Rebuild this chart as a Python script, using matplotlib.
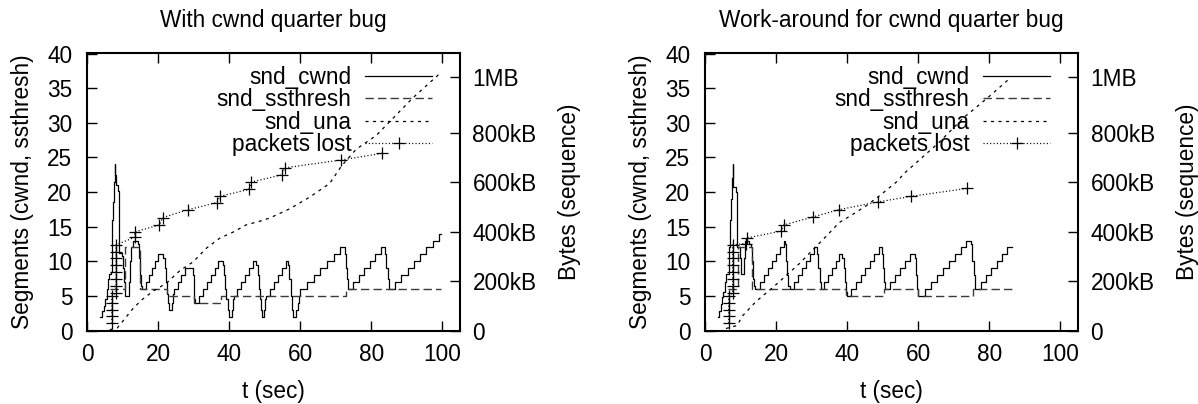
import matplotlib
matplotlib.use("Agg")
import matplotlib.pyplot as plt
from matplotlib.ticker import FixedLocator, FixedFormatter

plt.rcParams['font.family'] = ['Liberation Sans', 'DejaVu Sans']
plt.rcParams['lines.scale_dashes'] = False

# ---------------- data ----------------
titles = ["With cwnd quarter bug", "Work-around for cwnd quarter bug"]
legend_labels = ["snd_cwnd", "snd_ssthresh", "snd_una", "packets lost"]

x_ticks = [0, 20, 40, 60, 80, 100]
y_ticks = [0, 5, 10, 15, 20, 25, 30, 35, 40]
y2_ticks = [0, 204800, 409600, 614400, 819200, 1048576]
y2_ticklabels = ["0", "200kB", "400kB", "600kB", "800kB", "1MB"]

# --- left panel (with bug) ---
cwnd_l_t = [3.7, 4.3, 4.8, 5.2, 5.5, 5.8, 6.1, 6.8, 6.95, 7.05, 7.3, 7.6, 7.85, 8.0, 8.15, 8.8,
            8.95, 9.05, 9.8, 10.0, 10.3, 10.6, 11.8, 12.1, 12.5, 12.9, 14.3, 14.6, 14.9, 15.2,
            15.6, 16.5, 17.4, 18.3, 19.2, 20.1, 21.5, 21.9, 22.2, 22.5, 22.9, 23.1, 23.9, 24.2,
            24.5, 25.5, 26.5, 27.5, 29.8, 30.0, 30.2, 30.4, 31.5, 32.6, 33.7, 34.8, 35.9, 37.0,
            38.3, 38.6, 38.9, 39.2, 39.6, 39.9, 40.7, 41.0, 41.3, 42.3, 43.4, 44.5, 45.6, 46.7,
            47.7, 48.0, 48.3, 48.6, 48.9, 49.2, 49.8, 50.2, 50.5, 51.4, 52.6, 53.8, 55.0, 56.0,
            56.7, 57.0, 57.3, 57.6, 57.9, 58.7, 59.3, 59.8, 60.0, 61.9, 63.8, 65.7, 67.6, 69.5,
            71.3, 72.6, 72.9, 73.1, 73.4, 75.0, 76.6, 78.1, 79.7, 81.2, 82.8, 84.0, 84.3, 84.6,
            84.9, 86.8, 88.5, 90.3, 92.0, 93.8, 95.5, 97.3, 99.0, 99.7]
cwnd_l_v = [2.0, 2.8, 3.5, 4.5, 6.0, 7.5, 8.2, 8.5, 12.0, 16.0, 18.5, 21.5, 24.0, 22.5, 21.0, 20.2,
            15.0, 11.2, 10.8, 9.0, 7.0, 5.0, 7.0, 10.0, 12.0, 13.0, 12.5, 10.5, 8.0, 6.5,
            6.0, 7.0, 8.0, 9.0, 10.0, 11.0, 10.5, 9.0, 7.0, 5.3, 4.0, 3.0, 4.0, 5.3,
            6.0, 7.0, 8.0, 9.0, 8.0, 6.0, 4.5, 4.0, 5.0, 6.0, 7.0, 8.0, 9.0, 10.0,
            9.5, 8.0, 6.0, 4.5, 3.0, 2.0, 3.0, 4.5, 5.0, 6.0, 7.0, 8.0, 9.0, 10.0,
            9.5, 8.0, 6.0, 4.5, 3.0, 2.0, 3.0, 4.5, 5.0, 6.0, 7.0, 8.0, 9.0, 10.0,
            9.5, 7.5, 5.0, 3.0, 2.0, 3.0, 4.0, 5.0, 6.0, 7.0, 8.0, 9.0, 10.0, 11.0,
            12.0, 11.0, 9.0, 7.5, 6.0, 7.0, 8.0, 9.0, 10.0, 11.0, 12.0, 11.0, 9.0, 7.5,
            6.0, 7.0, 8.0, 9.0, 10.0, 11.0, 12.0, 13.0, 14.0, 14.0]
ssth_l_t = [6.5, 10.6, 15.0, 22.4, 30.0, 37.6, 72.8, 99.7]
ssth_l_v = [6, 12, 6, 5, 4, 5, 6, 6]
una_l_t = [6.4, 8.5, 10.5, 13.0, 15.5, 18.7, 22.4, 26.2, 29.9, 33.6, 37.4, 41.1, 44.9, 48.6,
           51.4, 57.0, 62.7, 68.3, 71.6, 75.8, 81.4, 91.7, 99.7]
una_l_kb = [3, 10, 45, 90, 125, 160, 192, 243, 278, 333, 374, 398, 428, 442,
            455, 492, 540, 595, 665, 734, 789, 941, 1045]
lost_l_t = [7.0, 7.0, 7.0, 7.0, 7.0, 8.2, 8.2, 8.2, 8.2, 8.2, 8.2, 8.2, 8.2,
            13.4, 13.4, 20.4, 21.3, 28.3, 36.6, 37.4, 45.6, 46.3, 54.9, 55.6, 71.5, 83.1]
lost_l_kb = [29, 57, 84, 112, 139, 153, 181, 209, 236, 264, 292, 319, 347,
             377, 399, 427, 457, 488, 518, 543, 571, 601, 630, 658, 690, 717]

# --- right panel (work-around) ---
cwnd_r_t = [3.6, 4.0, 4.5, 4.9, 5.2, 5.6, 5.9, 6.7, 6.8, 6.9, 7.2, 7.5, 7.8, 7.9, 8.0, 8.7,
            8.9, 9.1, 9.8, 10.0, 11.1, 11.3, 12.3, 13.0, 13.3, 13.5, 13.8, 14.2, 15.5, 16.6,
            17.7, 18.8, 19.9, 21.0, 22.1, 22.6, 22.9, 23.2, 23.5, 23.8, 25.0, 26.1, 27.3, 28.5,
            29.6, 30.8, 31.5, 31.9, 32.3, 32.6, 33.6, 34.7, 35.7, 36.8, 37.8, 38.6, 39.0, 39.3,
            39.6, 40.0, 41.2, 42.5, 43.8, 45.1, 46.4, 47.7, 49.0, 49.8, 50.2, 50.5, 50.8, 52.2,
            53.6, 55.0, 56.4, 57.8, 59.1, 59.5, 59.8, 60.1, 62.0, 63.7, 65.3, 67.0, 68.6, 70.3,
            72.0, 73.6, 74.8, 75.2, 75.6, 75.9, 77.6, 79.1, 80.6, 82.1, 83.6, 85.1, 86.4]
cwnd_r_v = [2.0, 2.8, 3.8, 4.8, 5.6, 7.0, 8.2, 8.5, 12.0, 16.0, 19.0, 22.0, 24.0, 22.5, 20.7, 20.0,
            16.0, 12.0, 10.5, 8.2, 10.5, 13.0, 12.5, 12.0, 10.0, 7.5, 6.5, 6.0, 7.0, 8.0,
            9.0, 10.0, 11.0, 12.0, 13.0, 12.5, 10.0, 8.0, 6.5, 6.0, 7.0, 8.0, 9.0, 10.0,
            11.0, 12.0, 11.0, 9.0, 7.0, 6.0, 7.0, 8.0, 9.0, 10.0, 11.0, 10.5, 9.0, 7.0,
            5.5, 5.0, 6.0, 7.0, 8.0, 9.0, 10.0, 11.0, 12.0, 11.0, 9.0, 7.0, 6.0, 7.0,
            8.0, 9.0, 10.0, 11.0, 10.5, 8.0, 6.0, 5.0, 6.0, 7.0, 8.0, 9.0, 10.0, 11.0,
            12.0, 13.0, 12.5, 10.0, 8.0, 6.0, 7.0, 8.0, 9.0, 10.0, 11.0, 12.0, 12.0]
ssth_r_t = [6.5, 9.2, 13.3, 39.7, 50.5, 59.9, 75.5, 86.4]
ssth_r_v = [6, 12, 6, 5, 6, 5, 6, 6]
una_r_t = [5.9, 9.0, 10.6, 14.4, 19.1, 22.8, 26.6, 30.3, 34.1, 37.8, 41.6, 45.4, 49.1, 53.8,
           56.4, 61.1, 65.8, 72.7, 79.5, 86.1]
una_r_kb = [8, 20, 60, 118, 174, 222, 271, 326, 381, 437, 470, 505, 545, 600,
            640, 700, 760, 860, 941, 1024]
lost_r_t = [6.7, 6.7, 6.7, 6.7, 6.7, 7.8, 7.8, 7.8, 7.8, 7.8, 7.8, 7.8, 7.8,
            11.5, 11.7, 21.4, 22.2, 30.5, 37.7, 48.6, 58.1, 73.8]
lost_r_kb = [29, 57, 84, 112, 139, 153, 181, 209, 236, 264, 292, 319, 347,
             352, 374, 402, 427, 460, 489, 520, 543, 575]

# ---------------- drawing ----------------
FS = 16.3
W, H = 1198, 404
fig = plt.figure(figsize=(W / 100, H / 100), dpi=100)

INK = "#000000"


def panel(x_px, title, cw_t, cw_v, ss_t, ss_v, un_t, un_kb, lo_t, lo_kb):
    ax = fig.add_axes([x_px / W, (H - 330.5) / H, 373 / W, 277.5 / H])
    ax2 = ax.twinx()
    ax.set_xlim(0, 105)
    ax.set_ylim(0, 40.1)
    ax2.set_ylim(0, 1.15e6)

    l1, = ax.plot(cw_t, cw_v, color=INK, lw=0.9, drawstyle="steps-post")
    l2, = ax.plot(ss_t, ss_v, color="#3a3a3a", lw=1.0, drawstyle="steps-post",
                  dashes=(6.0, 3.0))
    l3, = ax2.plot(un_t, [v * 1024 for v in un_kb], color=INK, lw=0.9,
                   dashes=(2.2, 3.2))
    l4, = ax2.plot(lo_t, [v * 1024 for v in lo_kb], color=INK, lw=0.9,
                   dashes=(0.8, 1.6), marker="+", markersize=8, markeredgewidth=0.9)

    ax.xaxis.set_major_locator(FixedLocator(x_ticks))
    ax.yaxis.set_major_locator(FixedLocator(y_ticks))
    ax2.yaxis.set_major_locator(FixedLocator(y2_ticks))
    ax2.yaxis.set_major_formatter(FixedFormatter(y2_ticklabels))

    ax.tick_params(axis="x", direction="in", top=True, bottom=True, length=7.5,
                   width=1.0, pad=9, labelsize=FS)
    ax.tick_params(axis="y", direction="in", left=True, right=False, length=7.5,
                   width=1.0, pad=10.5, labelsize=FS)
    ax2.tick_params(axis="y", direction="in", right=True, left=False, length=7.5,
                    width=1.0, pad=9, labelsize=FS)

    for s in ax.spines.values():
        s.set_linewidth(1.5)
    for s in ax2.spines.values():
        s.set_visible(False)

    ax.set_xlabel("t (sec)", fontsize=FS)
    ax.xaxis.set_label_coords(0.5, -0.178)
    ax.set_ylabel("Segments (cwnd, ssthresh)", fontsize=FS)
    ax.yaxis.set_label_coords(-0.142, 0.5)
    ax2.set_ylabel("Bytes (sequence)", fontsize=FS)
    ax2.yaxis.set_label_coords(1.262, 0.5)
    ax.set_title(title, fontsize=FS, pad=18.5)

    ax2.legend([l1, l2, l3, l4], legend_labels, loc="upper right",
               bbox_to_anchor=(0.925, 0.952), frameon=False, fontsize=FS,
               markerfirst=False, handlelength=2.95, handletextpad=0.6,
               labelspacing=-0.04, borderpad=0, borderaxespad=0, numpoints=1)
    return ax, ax2


panel(87, titles[0], cwnd_l_t, cwnd_l_v, ssth_l_t, ssth_l_v, una_l_t, una_l_kb,
      lost_l_t, lost_l_kb)
panel(705, titles[1], cwnd_r_t, cwnd_r_v, ssth_r_t, ssth_r_v, una_r_t, una_r_kb,
      lost_r_t, lost_r_kb)

fig.savefig("out.png", dpi=100)
